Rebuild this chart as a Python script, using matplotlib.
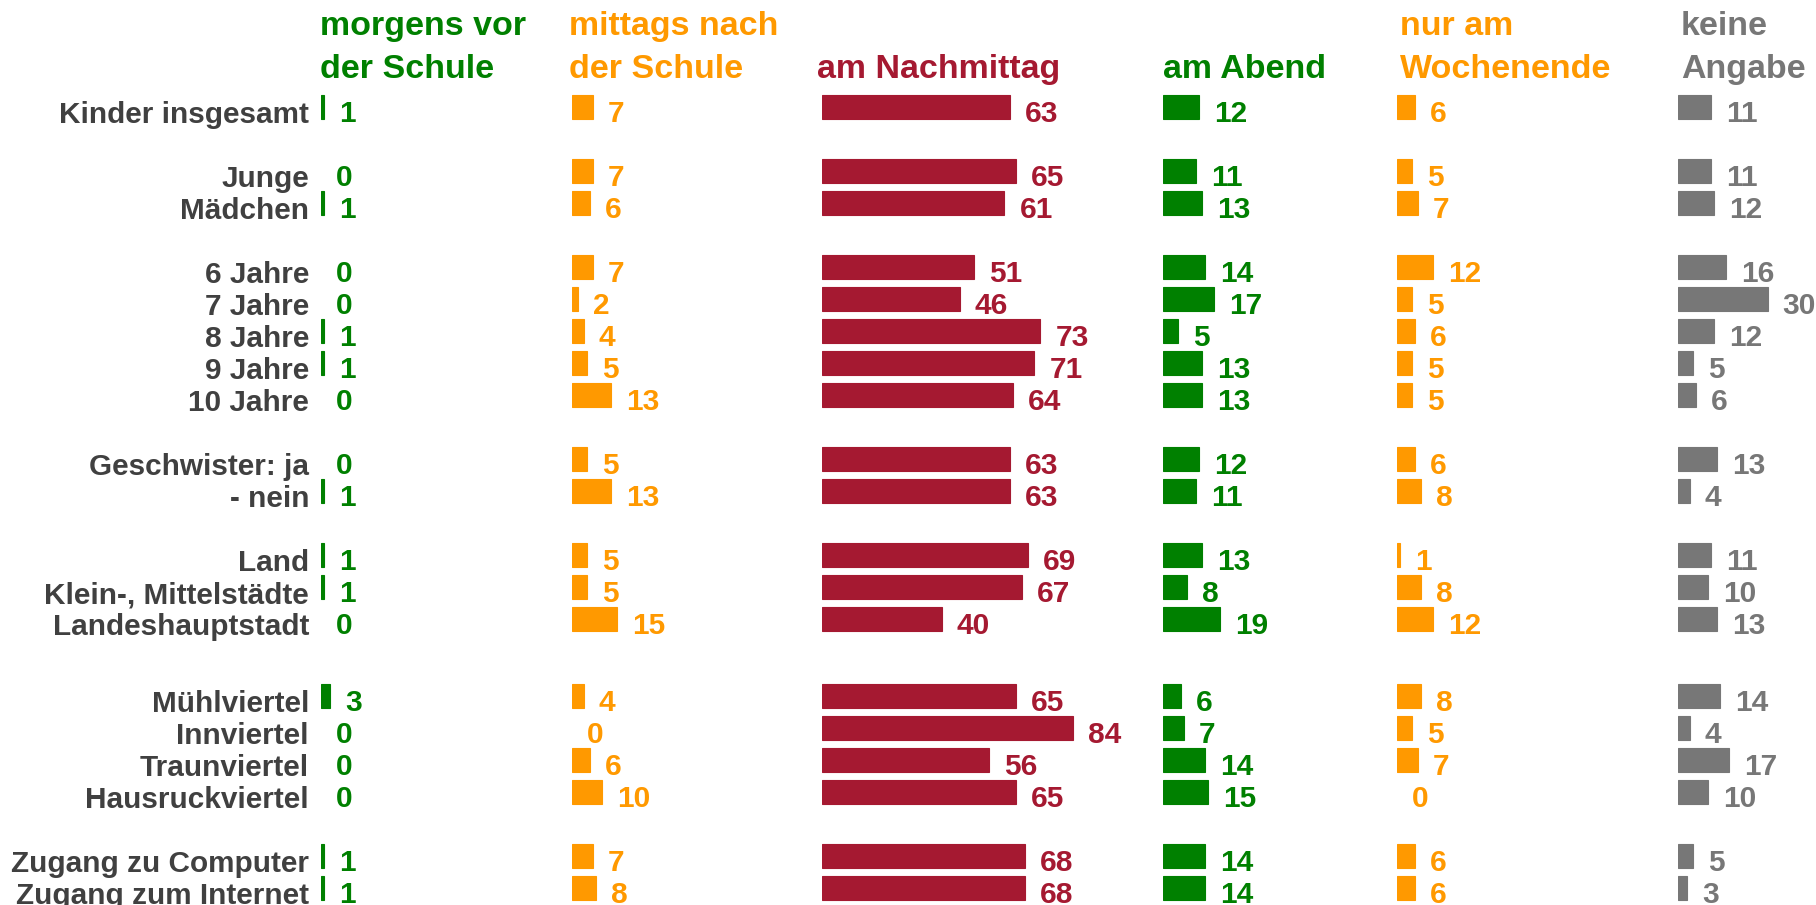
import matplotlib.pyplot as plt

plt.rcParams['font.family'] = ['Liberation Sans', 'DejaVu Sans']
plt.rcParams['font.weight'] = 'bold'

# data
rows = ["Kinder insgesamt", "Junge", "Mädchen", "6 Jahre", "7 Jahre", "8 Jahre",
        "9 Jahre", "10 Jahre", "Geschwister: ja", "- nein", "Land",
        "Klein-, Mittelstädte", "Landeshauptstadt", "Mühlviertel", "Innviertel",
        "Traunviertel", "Hausruckviertel", "Zugang zu Computer", "Zugang zum Internet"]
morgens = [1, 0, 1, 0, 0, 1, 1, 0, 0, 1, 1, 1, 0, 3, 0, 0, 0, 1, 1]
mittags = [7, 7, 6, 7, 2, 4, 5, 13, 5, 13, 5, 5, 15, 4, 0, 6, 10, 7, 8]
nachmittag = [63, 65, 61, 51, 46, 73, 71, 64, 63, 63, 69, 67, 40, 65, 84, 56, 65, 68, 68]
abend = [12, 11, 13, 14, 17, 5, 13, 13, 12, 11, 13, 8, 19, 6, 7, 14, 15, 14, 14]
wochenende = [6, 5, 7, 12, 5, 6, 5, 5, 6, 8, 1, 8, 12, 8, 5, 7, 0, 6, 6]
keine = [11, 11, 12, 16, 30, 12, 5, 6, 13, 4, 11, 10, 13, 14, 4, 17, 10, 5, 3]

headers = [("morgens vor", "der Schule"), ("mittags nach", "der Schule"),
           ("", "am Nachmittag"), ("", "am Abend"),
           ("nur am", "Wochenende"), ("keine", "Angabe")]

GREEN = '#008000'
ORANGE = '#FF9900'
RED = '#A51931'
GRAY = '#777777'
LABEL = '#404040'
colors = [GREEN, ORANGE, RED, GREEN, ORANGE, GRAY]
series = [morgens, mittags, nachmittag, abend, wochenende, keine]

# layout in pixels
W, H = 1816, 905
scale = 2.99            # px per percent
starts = [321, 572, 822, 1163, 1397, 1678]
head_dx = [-1, -3, -5, 0, 3, 3]
groups = [1, 2, 5, 2, 3, 4, 2]
gaps = [1, 1, 1, 1, 1.4, 1]
slots = []
s = 0.0
for gi, n in enumerate(groups):
    for k in range(n):
        slots.append(s)
        s += 1
    if gi < len(gaps):
        s += gaps[gi]
ypos = [107 + 32 * v for v in slots]

fig = plt.figure(figsize=(W / 100, H / 100), dpi=100)
fig.patch.set_facecolor('white')

for ci, (x0, vals, col) in enumerate(zip(starts, series, colors)):
    ax = fig.add_axes([x0 / W, 0, (W - x0) / W, 1])
    ax.set_xlim(0, (W - x0) / scale)
    ax.set_ylim(H, 0)
    ax.axis('off')
    ax.patch.set_alpha(0)
    lws = [0.8 if v > 0 else 0 for v in vals]
    ax.barh(ypos, vals, height=24, color=col, edgecolor=col, linewidth=lws)
    for y, v in zip(ypos, vals):
        ax.text(v + 15 / scale, y + 15, str(v), color=col, fontsize=21.5,
                fontweight='bold', ha='left', va='baseline', clip_on=False)
    l1, l2 = headers[ci]
    hx = head_dx[ci] / scale
    if l1:
        ax.text(hx, 35, l1, color=col, fontsize=24.5, fontweight='bold',
                ha='left', va='baseline')
    ax.text(hx, 78, l2, color=col, fontsize=24.5, fontweight='bold',
            ha='left', va='baseline')
    if ci == 0:
        for y, lab in zip(ypos, rows):
            ax.text(-12 / scale, y + 16, lab, color=LABEL, fontsize=21.4,
                    fontweight='bold', ha='right', va='baseline', clip_on=False)

fig.savefig('out.png', dpi=100)
